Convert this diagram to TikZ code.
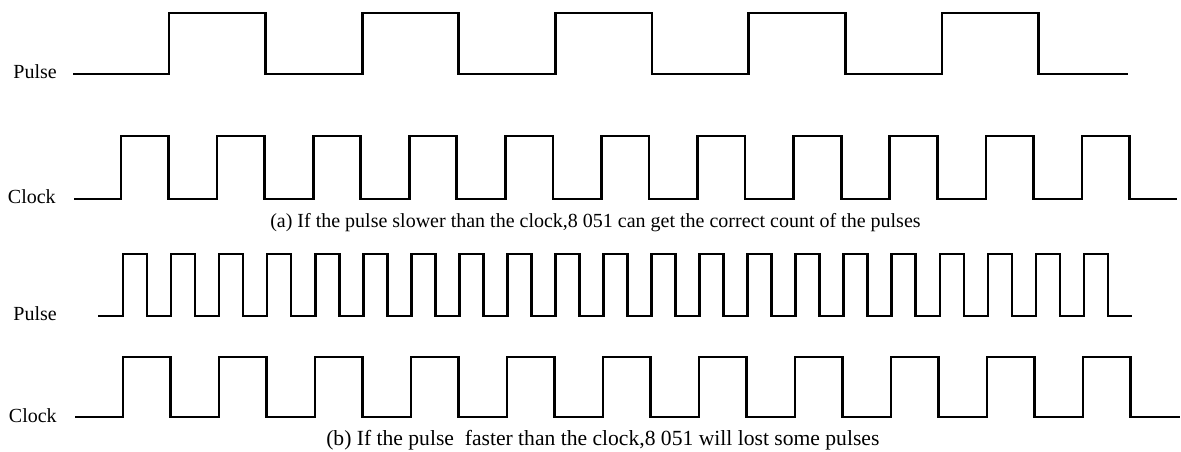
\documentclass[tikz,border=0pt]{standalone}
\usepackage{fontspec}
\setmainfont{Liberation Serif}

\begin{document}
\begin{tikzpicture}[x=0.75pt, y=-0.75pt, line join=miter,
    wave/.style={line width=2pt},
    sig/.style={anchor=east, inner sep=0pt, font=\fontsize{15}{18}\selectfont},
    caption/.style={anchor=west, inner sep=0pt, font=\fontsize{15}{18}\selectfont}]
  \useasboundingbox (0,0) rectangle (1181,452);

  % (a) Pulse slower than the clock
  \node[sig] (pulseA) at (57,72) {Pulse};
  \draw[wave] (73,74) \foreach \k in {0,...,4} {
      -- ({169+193.25*\k},74) -- ++(0,-61) -- ++(96.5,0) -- ++(0,61) } -- (1128,74);

  \node[sig] (clockA) at (56,197) {Clock};
  \draw[wave] (74,199) \foreach \k in {0,...,10} {
      -- ({121+96.1*\k},199) -- ++(0,-63) -- ++(47.5,0) -- ++(0,63) } -- (1177,199);

  \node[caption] (capA) at (270,223) {(a) If the pulse slower than the clock,8 051 can get the correct count of the pulses};

  % (b) Pulse faster than the clock
  \node[sig] (pulseB) at (57,314) {Pulse};
  \draw[wave] (98,316) \foreach \k in {0,...,20} {
      -- ({123+48.05*\k},316) -- ++(0,-62) -- ++(24,0) -- ++(0,62) } -- (1132,316);

  \node[sig] (clockB) at (57,416) {Clock};
  \draw[wave] (75,417) \foreach \k in {0,...,10} {
      -- ({123+96*\k},417) -- ++(0,-60) -- ++(47.5,0) -- ++(0,60) } -- (1180,417);

  \node[caption, font=\fontsize{16.2}{19}\selectfont] (capB) at (326,440) {(b) If the pulse\ \ faster than the clock,8 051 will lost some pulses};
\end{tikzpicture}
\end{document}
